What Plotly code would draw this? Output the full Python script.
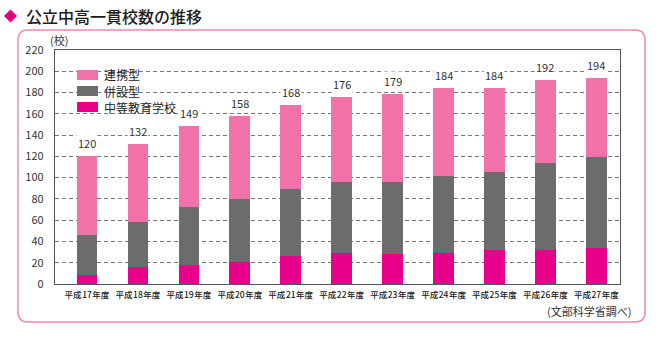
import plotly.graph_objects as go

# 公立中高一貫校数（平成17〜27年度）
years = ["平成\u200a17\u200a年度", "平成\u200a18\u200a年度", "平成\u200a19\u200a年度",
         "平成\u200a20\u200a年度", "平成\u200a21\u200a年度", "平成\u200a22\u200a年度",
         "平成\u200a23\u200a年度", "平成\u200a24\u200a年度", "平成\u200a25\u200a年度",
         "平成\u200a26\u200a年度", "平成\u200a27\u200a年度"]
chutou = [8, 16, 18, 21, 26, 29, 28, 29, 32, 32, 34]      # 中等教育学校
heisetsu = [38, 42, 54, 59, 63, 67, 68, 73, 73, 82, 85]   # 併設型
renkei = [74, 74, 77, 78, 79, 80, 83, 82, 79, 78, 75]     # 連携型
totals = [a + b + c for a, b, c in zip(chutou, heisetsu, renkei)]
y_ticks = list(range(0, 221, 20))

C_RENKEI = "#F072A9"
C_HEISETSU = "#6C6C6E"
C_CHUTOU = "#E8008A"
C_FRAME = "#EE86B6"
FONT = "Noto Sans CJK JP"

# plot area in pixels
WIDTH, HEIGHT = 670, 342
L, R, T, B = 55, 620, 50, 284
PW, PH = R - L, B - T


def px(x):
    return (x - L) / PW


def py(y):
    return (B - y) / PH


fig = go.Figure()
for name, vals, col in [("中等教育学校", chutou, C_CHUTOU),
                        ("併設型", heisetsu, C_HEISETSU),
                        ("連携型", renkei, C_RENKEI)]:
    fig.add_trace(go.Bar(x=years, y=vals, name=name, marker_color=col,
                         marker_line_width=0, showlegend=False))

shapes = []
annotations = []

# rounded frame around the chart
x1, x2, y1, y2, r = 18, 645, 30, 322, 10
path = (f"M{px(x1 + r)},{py(y1)} L{px(x2 - r)},{py(y1)} "
        f"Q{px(x2)},{py(y1)} {px(x2)},{py(y1 + r)} "
        f"L{px(x2)},{py(y2 - r)} Q{px(x2)},{py(y2)} {px(x2 - r)},{py(y2)} "
        f"L{px(x1 + r)},{py(y2)} Q{px(x1)},{py(y2)} {px(x1)},{py(y2 - r)} "
        f"L{px(x1)},{py(y1 + r)} Q{px(x1)},{py(y1)} {px(x1 + r)},{py(y1)} Z")
shapes.append(dict(type="path", xref="paper", yref="paper", path=path,
                   line=dict(color=C_FRAME, width=1.4), fillcolor="rgba(0,0,0,0)",
                   layer="below"))

# title marker
cx, cy, h = 10.5, 16, 6.5
shapes.append(dict(type="path", xref="paper", yref="paper",
                   path=(f"M{px(cx)},{py(cy - h)} L{px(cx + h)},{py(cy)} "
                         f"L{px(cx)},{py(cy + h)} L{px(cx - h)},{py(cy)} Z"),
                   fillcolor="#E4007F", line=dict(width=0)))
annotations.append(dict(xref="paper", yref="paper", x=px(24), y=py(16),
                        xanchor="left", yanchor="middle", showarrow=False,
                        text="公立中高一貫校数の推移",
                        font=dict(family=FONT, size=16, color="#1a1a1a", weight=500)))

# unit label
annotations.append(dict(xref="paper", yref="paper", x=px(59), y=py(40),
                        xanchor="center", yanchor="middle", showarrow=False,
                        text="(校)", font=dict(family=FONT, size=11, color="#333333")))

# legend
shapes.append(dict(type="rect", xref="paper", yref="paper",
                   x0=px(68), x1=px(187), y0=py(62), y1=py(116),
                   fillcolor="white", line=dict(width=0), layer="between"))
for i, (name, col) in enumerate([("連携型", C_RENKEI), ("併設型", C_HEISETSU),
                                 ("中等教育学校", C_CHUTOU)]):
    yc = 75 + 16 * i
    shapes.append(dict(type="rect", xref="paper", yref="paper",
                       x0=px(77), x1=px(98), y0=py(yc + 5), y1=py(yc - 5),
                       fillcolor=col, line=dict(width=0), layer="above"))
    annotations.append(dict(xref="paper", yref="paper", x=px(103), y=py(yc),
                            xanchor="left", yanchor="middle", showarrow=False,
                            text=name, borderpad=0,
                            font=dict(family=FONT, size=12, color="#222222")))

# totals above bars
for yr, tot in zip(years, totals):
    annotations.append(dict(x=yr, y=tot, xanchor="center", yanchor="bottom",
                            yshift=3, showarrow=False, text=str(tot),
                            bgcolor="white", borderpad=1,
                            font=dict(family=FONT, size=11, color="#333333")))

# source
annotations.append(dict(xref="paper", yref="paper", x=px(633), y=py(311),
                        xanchor="right", yanchor="middle", showarrow=False,
                        text="(文部科学省調べ)",
                        font=dict(family=FONT, size=11, color="#333333")))

fig.update_layout(
    width=WIDTH, height=HEIGHT,
    margin=dict(l=L, r=WIDTH - R, t=T, b=HEIGHT - B),
    paper_bgcolor="white", plot_bgcolor="white",
    barmode="stack", bargap=0.594,
    font=dict(family=FONT, color="#333333"),
    shapes=shapes, annotations=annotations,
    xaxis=dict(range=[-0.628, 10.465], showline=True, mirror=True,
               linecolor="#555555", linewidth=1.2, showgrid=False,
               ticks="", tickangle=0,
               tickfont=dict(family=FONT, size=8.5, color="#1a1a1a", weight=500),
               ticklabelstandoff=3, fixedrange=True),
    yaxis=dict(range=[0, 220], tickvals=y_ticks, showline=True, mirror=True,
               linecolor="#555555", linewidth=1.2, showgrid=True,
               gridcolor="#777777", gridwidth=1, griddash="4px,3px",
               zeroline=False, ticks="",
               tickfont=dict(family=FONT, size=11, color="#333333"),
               ticklabelstandoff=8, fixedrange=True),
)

fig.write_html("out.html")
